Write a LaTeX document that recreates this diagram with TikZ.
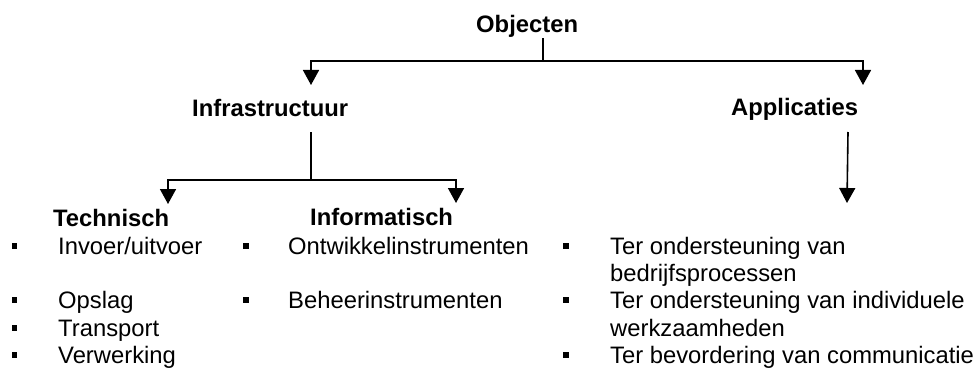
\documentclass[tikz,border=0pt]{standalone}
\usepackage{fontspec}
\setmainfont{Liberation Sans}
\usetikzlibrary{arrows.meta}
\begin{document}
\begin{tikzpicture}[x=1pt,y=-1pt,
  head/.style={font=\bfseries\fontsize{23.8pt}{27pt}\selectfont, inner sep=0pt, anchor=base west},
  item/.style={font=\fontsize{23.8pt}{27pt}\selectfont, inner sep=0pt, anchor=base west},
  bul/.style={fill=black, inner sep=0pt, minimum size=5.6pt},
  conn/.style={line width=1.6pt},
  arr/.style={conn, -{Triangle[width=16pt,length=15pt]}}]
\useasboundingbox (0,0) rectangle (980,369);

% category headings
\node[head] (obj)   at (476,33)  {Objecten};
\node[head] (infra) at (192,116) {Infrastructuur};
\node[head] (appl)  at (731,115) {Applicaties};
\node[head] (tech)  at (53,226)  {Technisch};
\node[head] (info)  at (310,225) {Informatisch};

% branching points and arrow ends
\coordinate (objsplit)   at (543,61);
\coordinate (infratip)   at (311,85);
\coordinate (appltip)    at (863,85);
\coordinate (infrasplit) at (311,180);
\coordinate (techtip)    at (168,204);
\coordinate (infotip)    at (456,203);
\coordinate (applstem)   at (848,132);
\coordinate (applend)    at (847,203);

% Objecten -> Infrastructuur / Applicaties
\draw[conn] (obj.south -| objsplit) -- (objsplit);
\draw[arr] (objsplit) -| (infratip);
\draw[arr] (objsplit) -| (appltip);

% Infrastructuur -> Technisch / Informatisch
\draw[conn] (infra.south -| infrasplit) ++(0,16) -- (infrasplit);
\draw[arr] (infrasplit) -| (techtip);
\draw[arr] (infrasplit) -| (infotip);

% Applicaties -> list
\draw[arr] (applstem) -- (applend);

% Technisch
\node[bul] (b11) at (14.5,246) {};
\node[item] (t11) at (58,254) {Invoer/uitvoer};
\node[bul] (b12) at (14.5,300) {};
\node[item] (t12) at (58,308) {Opslag};
\node[bul] (b13) at (14.5,328) {};
\node[item] (t13) at (58,336) {Transport};
\node[bul] (b14) at (14.5,355) {};
\node[item] (t14) at (58,363) {Verwerking};

% Informatisch
\node[bul] (b21) at (246,246) {};
\node[item] (t21) at (288,254) {Ontwikkelinstrumenten};
\node[bul] (b22) at (246,300) {};
\node[item] (t22) at (288,308) {Beheerinstrumenten};

% Applicaties
\node[bul] (b31) at (566,246) {};
\node[item] (t31) at (610,254) {Ter ondersteuning van};
\node[item] (t31b) at (610,281) {bedrijfsprocessen};
\node[bul] (b32) at (566,300) {};
\node[item] (t32) at (610,308) {Ter ondersteuning van individuele};
\node[item] (t32b) at (610,336) {werkzaamheden};
\node[bul] (b33) at (566,355) {};
\node[item] (t33) at (610,363) {Ter bevordering van communicatie};
\end{tikzpicture}
\end{document}
